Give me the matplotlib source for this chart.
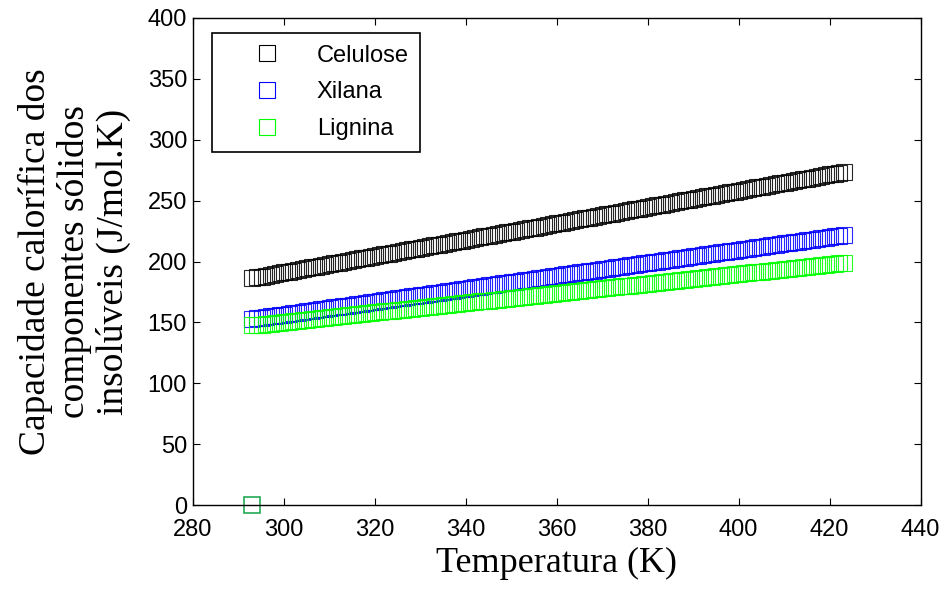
import numpy as np
import matplotlib
matplotlib.use("Agg")
import matplotlib.pyplot as plt

# Temperatura (K), passo de 1 K
temperatura = np.arange(293.15, 423.16, 1.0)

# Capacidade calorifica (J/mol.K) de cada componente
celulose = [
    186.4, 187.1, 187.7, 188.4, 189.1, 189.8, 190.4, 191.1, 191.8, 192.4,
    193.1, 193.8, 194.4, 195.1, 195.8, 196.5, 197.1, 197.8, 198.5, 199.1,
    199.8, 200.5, 201.1, 201.8, 202.5, 203.2, 203.8, 204.5, 205.2, 205.8,
    206.5, 207.2, 207.8, 208.5, 209.2, 209.9, 210.5, 211.2, 211.9, 212.5,
    213.2, 213.9, 214.5, 215.2, 215.9, 216.6, 217.2, 217.9, 218.6, 219.2,
    219.9, 220.6, 221.2, 221.9, 222.6, 223.3, 223.9, 224.6, 225.3, 225.9,
    226.6, 227.3, 227.9, 228.6, 229.3, 230.0, 230.6, 231.3, 232.0, 232.6,
    233.3, 234.0, 234.6, 235.3, 236.0, 236.7, 237.3, 238.0, 238.7, 239.3,
    240.0, 240.7, 241.3, 242.0, 242.7, 243.4, 244.0, 244.7, 245.4, 246.0,
    246.7, 247.4, 248.0, 248.7, 249.4, 250.1, 250.7, 251.4, 252.1, 252.7,
    253.4, 254.1, 254.7, 255.4, 256.1, 256.8, 257.4, 258.1, 258.8, 259.4,
    260.1, 260.8, 261.4, 262.1, 262.8, 263.5, 264.1, 264.8, 265.5, 266.1,
    266.8, 267.5, 268.1, 268.8, 269.5, 270.2, 270.8, 271.5, 272.2, 272.8,
    273.5,
]
xilana = [
    152.8, 153.3, 153.9, 154.4, 154.9, 155.5, 156.0, 156.5, 157.0, 157.6,
    158.1, 158.6, 159.2, 159.7, 160.2, 160.8, 161.3, 161.8, 162.3, 162.9,
    163.4, 163.9, 164.5, 165.0, 165.5, 166.1, 166.6, 167.1, 167.6, 168.2,
    168.7, 169.2, 169.8, 170.3, 170.8, 171.4, 171.9, 172.4, 172.9, 173.5,
    174.0, 174.5, 175.1, 175.6, 176.1, 176.7, 177.2, 177.7, 178.2, 178.8,
    179.3, 179.8, 180.4, 180.9, 181.4, 182.0, 182.5, 183.0, 183.5, 184.1,
    184.6, 185.1, 185.7, 186.2, 186.7, 187.3, 187.8, 188.3, 188.8, 189.4,
    189.9, 190.4, 191.0, 191.5, 192.0, 192.6, 193.1, 193.6, 194.1, 194.7,
    195.2, 195.7, 196.3, 196.8, 197.3, 197.9, 198.4, 198.9, 199.4, 200.0,
    200.5, 201.0, 201.6, 202.1, 202.6, 203.2, 203.7, 204.2, 204.7, 205.3,
    205.8, 206.3, 206.9, 207.4, 207.9, 208.5, 209.0, 209.5, 210.0, 210.6,
    211.1, 211.6, 212.2, 212.7, 213.2, 213.8, 214.3, 214.8, 215.3, 215.9,
    216.4, 216.9, 217.5, 218.0, 218.5, 219.1, 219.6, 220.1, 220.6, 221.2,
    221.7,
]
lignina = [
    147.5, 147.9, 148.3, 148.7, 149.1, 149.5, 149.9, 150.3, 150.7, 151.1,
    151.5, 151.8, 152.2, 152.6, 153.0, 153.4, 153.8, 154.2, 154.6, 155.0,
    155.4, 155.8, 156.2, 156.6, 157.0, 157.4, 157.8, 158.2, 158.6, 159.0,
    159.4, 159.7, 160.1, 160.5, 160.9, 161.3, 161.7, 162.1, 162.5, 162.9,
    163.3, 163.7, 164.1, 164.5, 164.9, 165.3, 165.7, 166.1, 166.5, 166.9,
    167.3, 167.6, 168.0, 168.4, 168.8, 169.2, 169.6, 170.0, 170.4, 170.8,
    171.2, 171.6, 172.0, 172.4, 172.8, 173.2, 173.6, 174.0, 174.4, 174.8,
    175.2, 175.5, 175.9, 176.3, 176.7, 177.1, 177.5, 177.9, 178.3, 178.7,
    179.1, 179.5, 179.9, 180.3, 180.7, 181.1, 181.5, 181.9, 182.3, 182.7,
    183.1, 183.4, 183.8, 184.2, 184.6, 185.0, 185.4, 185.8, 186.2, 186.6,
    187.0, 187.4, 187.8, 188.2, 188.6, 189.0, 189.4, 189.8, 190.2, 190.6,
    191.0, 191.3, 191.7, 192.1, 192.5, 192.9, 193.3, 193.7, 194.1, 194.5,
    194.9, 195.3, 195.7, 196.1, 196.5, 196.9, 197.3, 197.7, 198.1, 198.5,
    198.9,
]

# ponto isolado em zero na temperatura inicial
ponto_zero_t = [293.15]
ponto_zero_cp = [0.0]

series = ["Celulose", "Xilana", "Lignina"]
cores = ["#000000", "#0000ff", "#00ff00"]

plt.rcParams['font.family'] = ['Liberation Sans', 'DejaVu Sans']

fig = plt.figure(figsize=(9.49, 5.93), dpi=100)
ax = fig.add_axes([0.203, 0.148, 0.767, 0.822])

for nome, valores, cor in zip(series, [celulose, xilana, lignina], cores):
    ax.plot(temperatura, valores, linestyle='none', marker='s', markersize=11.5,
            markerfacecolor='none', markeredgecolor=cor, markeredgewidth=0.8,
            alpha=0.85, label=nome)

ax.plot(ponto_zero_t, ponto_zero_cp, linestyle='none', marker='s', markersize=11.5,
        markerfacecolor='none', markeredgecolor='#22aa55', markeredgewidth=1.2,
        clip_on=False)

ax.set_xlim(280, 440)
ax.set_ylim(0, 400)
ax.set_xticks(np.arange(280, 441, 20))
ax.set_yticks(np.arange(0, 401, 50))
ax.tick_params(direction='in', top=True, right=True, length=5, width=0.8,
               labelsize=17, pad=4)
ax.tick_params(axis='x', pad=10)
for s in ax.spines.values():
    s.set_linewidth(1.0)

ax.set_xlabel('Temperatura (K)', family=['Liberation Serif'], fontsize=26, labelpad=4)
ax.set_ylabel('Capacidade calorífica dos\ncomponentes sólidos\ninsolúveis (J/mol.K)',
              family=['Liberation Serif'], fontsize=27, linespacing=1.15, labelpad=12)

leg = ax.legend(loc='upper left', bbox_to_anchor=(0.026, 0.969), fontsize=17,
                numpoints=1, handlelength=3.7, handletextpad=0.25, borderpad=0.5,
                labelspacing=0.62, fancybox=False, framealpha=1, borderaxespad=0)
leg.get_frame().set_edgecolor('black')
leg.get_frame().set_linewidth(1.2)
for h in leg.legend_handles:
    h.set_alpha(1)

plt.savefig('out.png', dpi=100)
